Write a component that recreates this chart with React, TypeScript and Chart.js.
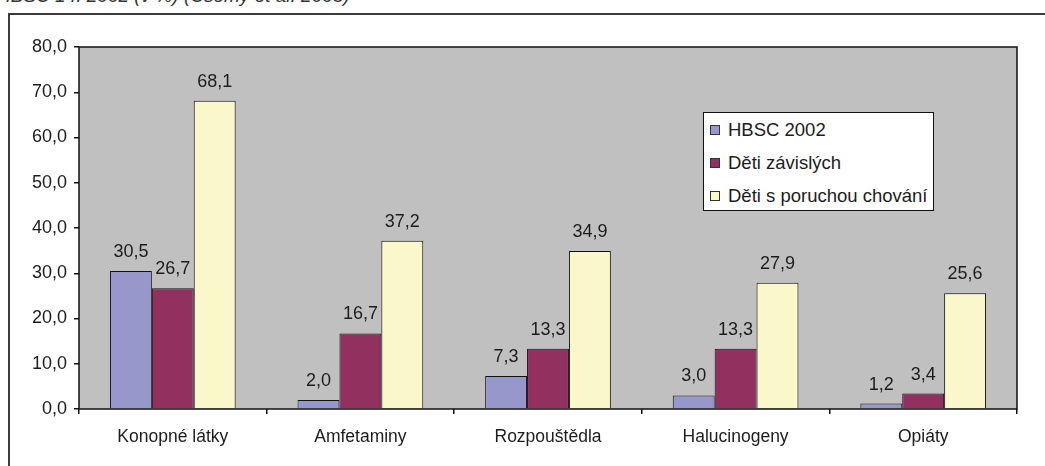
import { useEffect, useRef } from 'react';
import { Chart, registerables } from 'chart.js';

Chart.register(...registerables);

const WIDTH = 1045;
const HEIGHT = 466;
const FONT = '"Liberation Sans", Arial, Helvetica, sans-serif';
const TEXT_COLOR = '#1c1c1c';

// Substance categories on the x axis
const categories = ['Konopné látky', 'Amfetaminy', 'Rozpouštědla', 'Halucinogeny', 'Opiáty'];

// Series names and their values (%)
const seriesNames = ['HBSC 2002', 'Děti závislých', 'Děti s poruchou chování'];
const hbsc2002 = [30.5, 2.0, 7.3, 3.0, 1.2];
const detiZavislych = [26.7, 16.7, 13.3, 13.3, 3.4];
const detiSPoruchou = [68.1, 37.2, 34.9, 27.9, 25.6];
const seriesColors = ['#9797CB', '#923060', '#FAF8CA'];

// Value axis range
const yMin = 0;
const yMax = 80;
const yStep = 10;

const caption = 'HBSC 14. 2002 (v %) (Csémy et al. 2003)';

const formatCz = (v: number) => v.toFixed(1).replace('.', ',');

// Grey plot background, black frame and value labels above bars
const plotFrame = {
  id: 'plotFrame',
  beforeDraw(chart: any) {
    const { ctx, chartArea } = chart;
    ctx.save();
    ctx.fillStyle = '#C0C0C0';
    ctx.fillRect(chartArea.left, chartArea.top, chartArea.right - chartArea.left, chartArea.bottom - chartArea.top);
    ctx.restore();
  },
  afterDatasetsDraw(chart: any) {
    const { ctx, chartArea } = chart;
    ctx.save();
    ctx.strokeStyle = '#111';
    ctx.lineWidth = 1.5;
    ctx.strokeRect(chartArea.left, chartArea.top, chartArea.right - chartArea.left, chartArea.bottom - chartArea.top);

    ctx.fillStyle = TEXT_COLOR;
    ctx.font = `18px ${FONT}`;
    ctx.textAlign = 'center';
    ctx.textBaseline = 'alphabetic';
    chart.data.datasets.forEach((ds: any, di: number) => {
      const meta = chart.getDatasetMeta(di);
      meta.data.forEach((el: any, i: number) => {
        ctx.fillText(formatCz(ds.data[i]), el.x, el.y - 14);
      });
    });
    ctx.restore();
  },
};

function Legend() {
  return (
    <div
      style={{
        position: 'absolute',
        left: 703,
        top: 112,
        width: 231,
        height: 99,
        boxSizing: 'border-box',
        border: '1.5px solid #111',
        background: '#fff',
        paddingTop: 0.5,
      }}
    >
      {seriesNames.map((name, i) => (
        <div
          key={name}
          style={{
            position: 'relative',
            height: 33,
            display: 'flex',
            alignItems: 'center',
            font: `18.5px ${FONT}`,
            color: TEXT_COLOR,
            whiteSpace: 'nowrap',
          }}
        >
          <span
            style={{
              position: 'absolute',
              left: 6,
              top: 11,
              width: 10,
              height: 10,
              boxSizing: 'border-box',
              border: '1px solid #333',
              background: seriesColors[i],
            }}
          />
          <span style={{ position: 'absolute', left: 24 }}>{name}</span>
        </div>
      ))}
    </div>
  );
}

export default function App() {
  const canvasRef = useRef<HTMLCanvasElement | null>(null);

  useEffect(() => {
    if (!canvasRef.current) return;
    const series = [hbsc2002, detiZavislych, detiSPoruchou];
    const chart = new Chart(canvasRef.current, {
      type: 'bar',
      data: {
        labels: categories,
        datasets: series.map((values, i) => ({
          label: seriesNames[i],
          data: values,
          backgroundColor: seriesColors[i],
          borderColor: '#111',
          borderWidth: 1,
          categoryPercentage: 0.67,
          barPercentage: 1,
        })),
      },
      options: {
        responsive: false,
        animation: false,
        devicePixelRatio: 1,
        layout: { padding: { top: 47, right: 28, left: 0, bottom: 0 } },
        plugins: {
          legend: { display: false },
          title: { display: false },
          tooltip: { enabled: false },
        },
        scales: {
          x: {
            grid: {
              offset: true,
              drawOnChartArea: false,
              drawTicks: true,
              tickLength: 5,
              color: '#111',
              lineWidth: 1.5,
            },
            border: { display: false },
            ticks: {
              color: TEXT_COLOR,
              font: { family: FONT, size: 17.5 },
              padding: 13,
              maxRotation: 0,
              autoSkip: false,
            },
            afterFit(scale: any) {
              scale.height = 57;
            },
          },
          y: {
            min: yMin,
            max: yMax,
            grid: {
              drawOnChartArea: false,
              drawTicks: true,
              tickLength: 5,
              color: '#111',
              lineWidth: 1.5,
            },
            border: { display: false },
            ticks: {
              stepSize: yStep,
              color: TEXT_COLOR,
              font: { family: FONT, size: 18 },
              padding: 7,
              callback: (v: any) => formatCz(Number(v)),
            },
            afterFit(scale: any) {
              scale.width = 79;
            },
          },
        },
      },
      plugins: [plotFrame],
    });
    return () => chart.destroy();
  }, []);

  return (
    <div
      style={{
        position: 'absolute',
        left: 0,
        top: 0,
        width: WIDTH,
        height: HEIGHT,
        overflow: 'hidden',
        background: '#fff',
      }}
    >
      <div
        style={{
          position: 'absolute',
          left: -3,
          top: -14,
          font: `italic 19px ${FONT}`,
          lineHeight: '19px',
          color: '#333',
          whiteSpace: 'nowrap',
        }}
      >
        {caption}
      </div>
      <div
        style={{
          position: 'absolute',
          left: 8,
          top: 13,
          width: 1200,
          height: 600,
          border: '2px solid #3a3a3a',
        }}
      />
      <canvas
        ref={canvasRef}
        width={WIDTH}
        height={HEIGHT}
        style={{ position: 'absolute', left: 0, top: 0, width: WIDTH, height: HEIGHT }}
      />
      <Legend />
    </div>
  );
}
